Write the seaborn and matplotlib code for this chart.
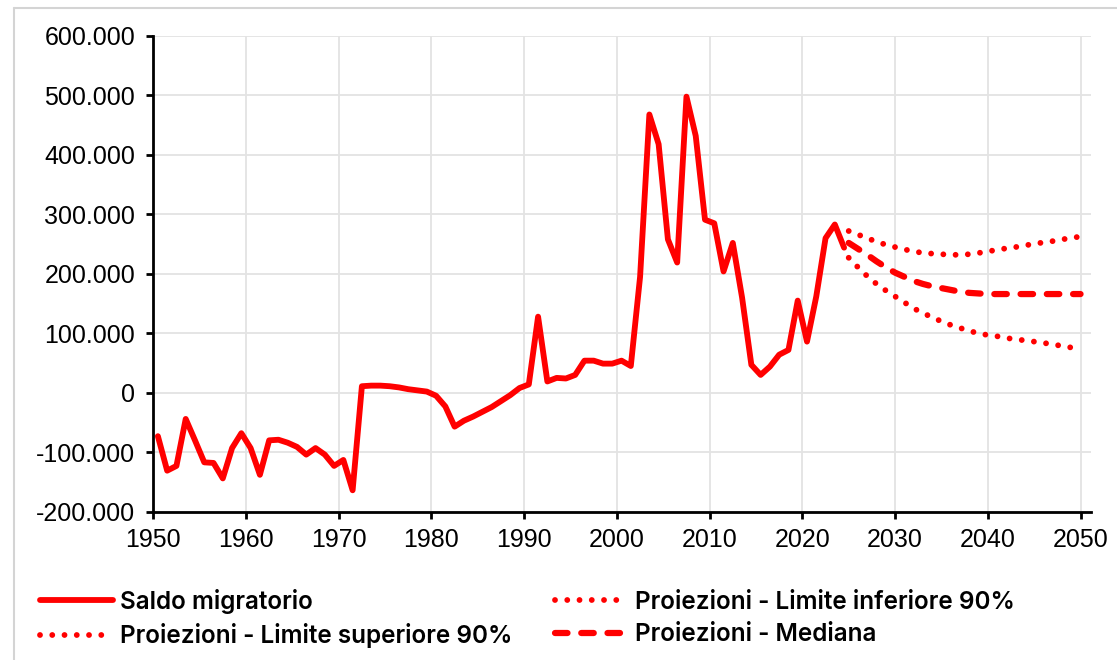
import numpy as np
import pandas as pd
import seaborn as sns
import matplotlib
matplotlib.use("Agg")
import matplotlib.pyplot as plt
from matplotlib.lines import Line2D
from matplotlib.ticker import FuncFormatter, MultipleLocator

# Saldo migratorio (migliaia), 1950-2024
anni_storici = list(range(1950, 2025))
saldo = [-73, -131, -123, -44, -80, -117, -118, -144, -93, -68,
         -93, -138, -80, -79, -84, -91, -104, -93, -104, -123,
         -113, -164, 11, 12, 12, 11, 9, 6, 4, 2,
         -5, -23, -57, -47, -40, -32, -24, -14, -4, 8,
         14, 128, 19, 25, 24, 30, 54, 54, 49, 49,
         54, 45, 195, 468, 418, 258, 219, 498, 432, 291,
         285, 204, 252, 160, 47, 30, 44, 64, 72, 155,
         86, 162, 260, 283, 244]

# Proiezioni 2025-2050 (migliaia)
anni_proiezioni = list(range(2025, 2051))
limite_superiore = [272, 266, 260, 254, 249, 245, 241, 238, 235, 234,
                    233, 232, 232, 233, 235, 238, 240, 243, 245, 248,
                    250, 253, 255, 258, 260, 263]
mediana = [252, 242, 232, 221, 211, 202, 195, 188, 183, 179,
           176, 173, 170, 168, 167, 166, 166, 166, 166, 166,
           166, 166, 166, 166, 166, 166]
limite_inferiore = [227, 211, 196, 183, 172, 162, 152, 142, 134, 127,
                    120, 114, 109, 104, 100, 97, 95, 92, 90, 88,
                    86, 84, 81, 79, 76, 73]

storico = pd.DataFrame({"anno": np.array(anni_storici) + 0.5,
                        "valore": np.array(saldo) * 1000})
proiez = pd.DataFrame({"anno": anni_proiezioni,
                       "sup": np.array(limite_superiore) * 1000,
                       "med": np.array(mediana) * 1000,
                       "inf": np.array(limite_inferiore) * 1000})

sns.set_theme(style="whitegrid")
plt.rcParams["font.family"] = ["Liberation Sans", "DejaVu Sans"]
plt.rcParams["text.color"] = "black"

fig, ax = plt.subplots(figsize=(11.17, 6.6), dpi=100)
fig.subplots_adjust(left=0.1372, right=0.9765, bottom=0.2247, top=0.9455)

red = "#ff0000"
dots = (0, (0.001, 2.1))
sns.lineplot(data=storico, x="anno", y="valore", ax=ax, color=red, lw=4.2,
             label="Saldo migratorio")
sns.lineplot(data=proiez, x="anno", y="inf", ax=ax, color=red, lw=4.2,
             linestyle=dots, dash_capstyle="round",
             label="Proiezioni - Limite inferiore 90%")
sns.lineplot(data=proiez, x="anno", y="sup", ax=ax, color=red, lw=4.2,
             linestyle=dots, dash_capstyle="round",
             label="Proiezioni - Limite superiore 90%")
sns.lineplot(data=proiez, x="anno", y="med", ax=ax, color=red, lw=4.5,
             linestyle=(0, (2.0, 2.2)), dash_capstyle="round",
             label="Proiezioni - Mediana")

ax.set_xlim(1950, 2051.1)
ax.set_ylim(-200000, 600000)
ax.xaxis.set_major_locator(MultipleLocator(10))
ax.yaxis.set_major_locator(MultipleLocator(100000))
ax.yaxis.set_major_formatter(FuncFormatter(lambda v, p: f"{int(v):,}".replace(",", ".")))
ax.set_xlabel("")
ax.set_ylabel("")

ax.grid(True, color="#e3e3e3", lw=1.3)
for s in ["top", "right"]:
    ax.spines[s].set_visible(False)
for s in ["left", "bottom"]:
    ax.spines[s].set_color("black")
    ax.spines[s].set_linewidth(2)
ax.tick_params(axis="both", colors="black", labelsize=18, length=5, width=2,
               direction="out", left=True, bottom=True,
               labelfontfamily="Liberation Sans")
ax.tick_params(axis="y", pad=8)
ax.tick_params(axis="x", pad=7)

# legend order: colonna 1 storico/superiore, colonna 2 inferiore/mediana
h, l = ax.get_legend_handles_labels()
order = [0, 2, 1, 3]
ax.get_legend().remove()
leg = fig.legend([h[i] for i in order], [l[i] for i in order], loc="upper left",
                 bbox_to_anchor=(0.0358, 0.108), ncol=2, frameon=False,
                 prop={"family": ["Inter", "Liberation Sans"], "size": 17.5, "weight": "semibold"},
                 handlelength=3.0, handletextpad=0.3, columnspacing=1.75,
                 borderaxespad=0, borderpad=0, labelspacing=0.4)
for t in leg.get_texts():
    t.set_color("black")

# cornice grigia del grafico
fig.add_artist(Line2D([14 / 1117, 1], [1 - 8 / 660, 1 - 8 / 660], color="#d4d4d4", lw=1.5))
fig.add_artist(Line2D([14 / 1117, 14 / 1117], [0, 1 - 8 / 660], color="#d4d4d4", lw=1.5))

fig.savefig("out.png", dpi=100)
